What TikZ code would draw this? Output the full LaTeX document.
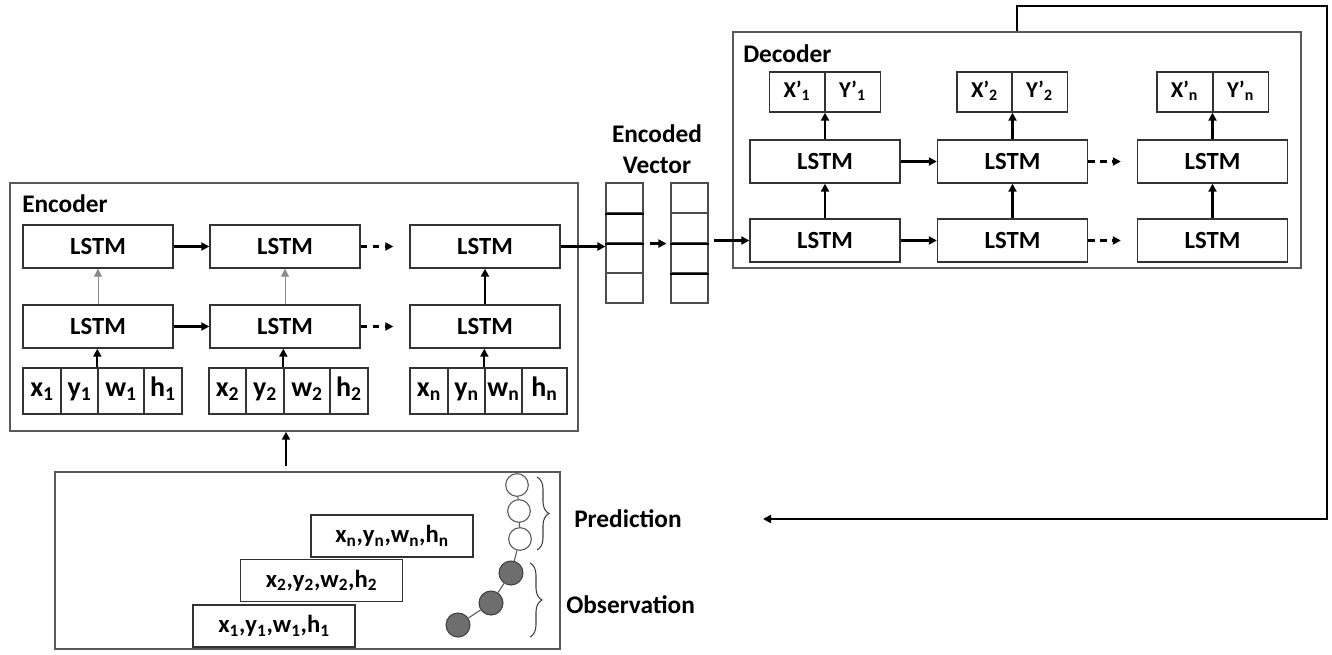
\documentclass[tikz,border=0pt]{standalone}
\usepackage{fontspec}
\setmainfont{Carlito}
\usetikzlibrary{arrows.meta, decorations.pathreplacing}

\begin{document}
\begin{tikzpicture}[x=0.75pt, y=-0.75pt,
    panel/.style={draw=black!65, line width=1.1pt, inner sep=0pt},
    boxlabel/.style={anchor=base west, inner sep=0pt, font=\fontsize{19}{23}\selectfont\bfseries},
    lstm/.style={draw=black!80, line width=1pt, minimum width=112.5pt, minimum height=32.25pt, inner sep=0pt, font=\fontsize{18.5}{20}\selectfont\bfseries},
    cell/.style={draw=black!80, line width=1pt, minimum height=34.5pt, inner sep=0pt, text height=13pt, text depth=5pt, font=\fontsize{21}{23}\selectfont\bfseries},
    outcell/.style={draw=black!80, line width=1pt, minimum width=41.5pt, minimum height=30pt, inner sep=0pt, text height=11pt, text depth=3pt, font=\fontsize{17}{19}\selectfont\bfseries},
    vec/.style={draw=black!70, line width=0.8pt, minimum width=27.75pt, minimum height=22.5pt, inner sep=0pt},
    sepline/.style={line width=1.5pt, black},
    obsbox/.style={draw=black!80, line width=0.9pt, minimum width=121.5pt, minimum height=31.5pt, inner sep=0pt, font=\fontsize{18.5}{20}\selectfont\bfseries},
    pcirc/.style={circle, draw=black!65, fill=white, line width=0.8pt, minimum size=17pt, inner sep=0pt},
    ocirc/.style={circle, draw=black!75, fill=black!57, line width=0.8pt, minimum size=18pt, inner sep=0pt},
    link/.style={draw=black!65, line width=0.8pt},
    brace/.style={decorate, decoration={brace, amplitude=9pt}, draw=black!75, line width=0.8pt},
    arr/.style={-{Triangle[length=6pt,width=6pt]}, line width=1.6pt},
    thinarr/.style={-{Triangle[length=6pt,width=6pt]}, line width=0.6pt, draw=black!45, fill=black},
    dasharr/.style={arr, dash pattern=on 5pt off 4pt, shorten >=12pt}]
    \useasboundingbox (0,0) rectangle (1332,654);

    % encoder
    \node[panel, minimum width=426pt, minimum height=186pt] (enc) at (294,307) {};
    \node[boxlabel] (enclabel) at (22,212) {Encoder};

    \node[lstm] (t1) at (98,246.5) {LSTM};
    \node[lstm] (t2) at (285,246.5) {LSTM};
    \node[lstm] (t3) at (485,246.5) {LSTM};
    \node[lstm] (m1) at (98,326.5) {LSTM};
    \node[lstm] (m2) at (285,326.5) {LSTM};
    \node[lstm] (m3) at (485,326.5) {LSTM};

    \node[cell, minimum width=28.5pt] (x1) at (42,391) {x\textsubscript{1}};
    \node[cell, minimum width=27.75pt] (y1) at (79.5,391) {y\textsubscript{1}};
    \node[cell, minimum width=34.5pt] (w1) at (121,391) {w\textsubscript{1}};
    \node[cell, minimum width=28.5pt] (h1) at (163,391) {h\textsubscript{1}};
    \node[cell, minimum width=27.75pt] (x2) at (227.5,391) {x\textsubscript{2}};
    \node[cell, minimum width=28.5pt] (y2) at (265,391) {y\textsubscript{2}};
    \node[cell, minimum width=34.5pt] (w2) at (307,391) {w\textsubscript{2}};
    \node[cell, minimum width=28.5pt] (h2) at (349,391) {h\textsubscript{2}};
    \node[cell, minimum width=28.5pt] (xn) at (429,391) {x\textsubscript{n}};
    \node[cell, minimum width=27.75pt] (yn) at (466.5,391) {y\textsubscript{n}};
    \node[cell, minimum width=27.75pt] (wn) at (503.5,391) {w\textsubscript{n}};
    \node[cell, minimum width=33.75pt] (hn) at (544.5,391) {h\textsubscript{n}};

    \draw[arr] (t1) -- (t2);
    \draw[dasharr] (t2) -- (t3);
    \draw[arr] (m1) -- (m2);
    \draw[dasharr] (m2) -- (m3);
    \draw[arr] (w1.north west) -- (w1.north west |- m1.south);
    \draw[arr] (w2.north west) -- (w2.north west |- m2.south);
    \draw[arr] (wn.north west) -- (wn.north west |- m3.south);
    \draw[thinarr] (m1) -- (t1);
    \draw[thinarr] (m2) -- (t2);
    \draw[arr] (m3) -- (t3);

    % encoded vector
    \node[boxlabel, anchor=center, align=center] (veclabel) at (657,149) {Encoded\\Vector};
    \node[vec] (v11) at (624.5,198) {};
    \node[vec] (v12) at (624.5,228) {};
    \node[vec] (v13) at (624.5,258) {};
    \node[vec] (v14) at (624.5,288) {};
    \node[vec] (v21) at (689.5,198) {};
    \node[vec] (v22) at (689.5,228) {};
    \node[vec] (v23) at (689.5,258) {};
    \node[vec] (v24) at (689.5,288) {};
    \draw[sepline] (v11.south west) -- (v11.south east);
    \draw[sepline] (v12.south west) -- (v12.south east);
    \draw[sepline] (v22.south west) -- (v22.south east);
    \draw[sepline] (v23.south west) -- (v23.south east);

    \draw[arr] (t3.east) -- (t3.east -| v11.west);
    \draw[arr, shorten <=5pt, shorten >=3pt] (v12.south east) -- (v22.south west);

    % decoder
    \node[panel, minimum width=426pt, minimum height=177pt] (dec) at (1017,150) {};
    \node[boxlabel] (declabel) at (743,62) {Decoder};

    \node[lstm] (db1) at (825,240.5) {LSTM};
    \node[lstm] (db2) at (1012.5,240.5) {LSTM};
    \node[lstm] (db3) at (1212.5,240.5) {LSTM};
    \node[lstm] (dt1) at (825,161.5) {LSTM};
    \node[lstm] (dt2) at (1012.5,161.5) {LSTM};
    \node[lstm] (dt3) at (1212.5,161.5) {LSTM};

    \node[outcell] (ox1) at (797,92) {X’\textsubscript{1}};
    \node[outcell] (oy1) at (852.5,92) {Y’\textsubscript{1}};
    \node[outcell] (ox2) at (984.5,92) {X’\textsubscript{2}};
    \node[outcell] (oy2) at (1039.5,92) {Y’\textsubscript{2}};
    \node[outcell] (oxn) at (1184.5,92) {X’\textsubscript{n}};
    \node[outcell] (oyn) at (1240.5,92) {Y’\textsubscript{n}};

    \draw[arr, shorten <=4pt] (v22.south east |- db1.west) -- (db1.west);
    \draw[arr] (db1) -- (db2);
    \draw[dasharr] (db2) -- (db3);
    \draw[arr] (dt1) -- (dt2);
    \draw[dasharr] (dt2) -- (dt3);
    \draw[arr] (db1) -- (dt1);
    \draw[arr] (db2) -- (dt2);
    \draw[arr] (db3) -- (dt3);
    \draw[arr] (dt1.north) -- (dt1.north |- ox1.south);
    \draw[arr] (dt2.north) -- (dt2.north |- ox2.south);
    \draw[arr] (dt3.north) -- (dt3.north |- oxn.south);

    % feedback
    \coordinate (fbcorner) at (1327,6);
    \coordinate (fbend) at (763,519);
    \draw[arr] (dec.north) |- (fbcorner) |- (fbend);

    % observation / prediction
    \node[panel, minimum width=378.75pt, minimum height=132.75pt] (obs) at (307.5,560.5) {};
    \coordinate (obsout) at (286,466);
    \draw[arr] (obsout) -- (obsout |- enc.south);

    \node[obsbox] (on) at (392,536) {x\textsubscript{n},y\textsubscript{n},w\textsubscript{n},h\textsubscript{n}};
    \node[obsbox] (o2) at (321.5,580.5) {x\textsubscript{2},y\textsubscript{2},w\textsubscript{2},h\textsubscript{2}};
    \node[obsbox] (o1) at (274,626) {x\textsubscript{1},y\textsubscript{1},w\textsubscript{1},h\textsubscript{1}};

    \node[pcirc] (p1) at (517,485) {};
    \node[pcirc] (p2) at (519,511) {};
    \node[pcirc] (p3) at (520,539) {};
    \node[ocirc] (q1) at (511,573) {};
    \node[ocirc] (q2) at (491,603) {};
    \node[ocirc] (q3) at (458,625) {};
    \draw[link] (p1) -- (p2) -- (p3) -- (q1) -- (q2) -- (q3);

    \draw[brace] (537,477) -- (537,550);
    \draw[brace] (530,563) -- (530,637);
    \node[boxlabel, anchor=west] (predlabel) at (574,519) {Prediction};
    \node[boxlabel, anchor=west] (obslabel) at (566,605) {Observation};
\end{tikzpicture}
\end{document}
